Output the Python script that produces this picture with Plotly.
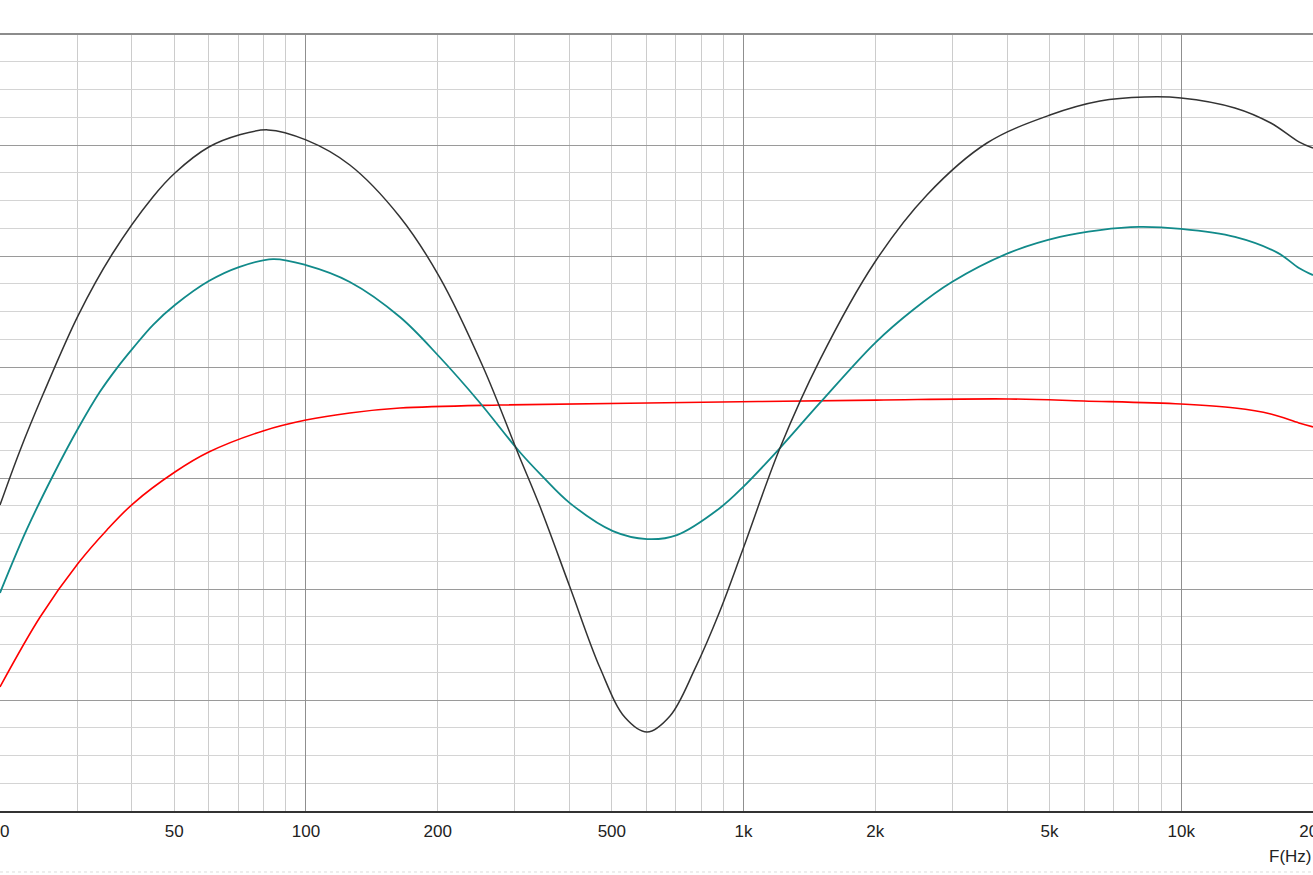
import math
import plotly.graph_objects as go

# Frequencies (Hz) and levels (dB)
freq_black = [20, 22.2, 25.1, 30.2, 36.1, 44.7, 50.2, 60.0, 70.3, 81.9, 100, 126, 164, 202, 254, 305,
              343, 401, 470, 536, 602, 679, 774, 883, 997, 1211, 1494, 1996, 2624, 3598, 5012,
              6522, 8260, 9986, 13260, 16020, 18572, 20000]
lvl_black = [73.78, 76.22, 78.78, 82.34, 85.09, 87.66, 88.74, 89.91, 90.45, 90.68, 90.23, 89.10, 86.76,
             84.05, 80.00, 76.13, 73.69, 70.09, 66.44, 64.21, 63.56, 64.28, 66.40, 69.01, 71.80,
             76.35, 80.32, 84.73, 87.75, 90.09, 91.35, 91.98, 92.16, 92.12, 91.67, 90.99, 90.14, 89.86]

freq_teal = [20, 23.0, 26.4, 30.2, 33.8, 37.0, 40.3, 44.7, 50.2, 60.0, 70.3, 84.1, 100, 126, 164, 202,
             250, 308, 348, 401, 503, 602, 704, 883, 997, 1211, 1494, 1996, 2437, 2992, 4040, 5282,
             6522, 8005, 9986, 13260, 16620, 18572, 20000]
lvl_teal = [69.82, 72.66, 75.09, 77.25, 78.87, 79.95, 80.86, 81.89, 82.79, 83.87, 84.50, 84.86, 84.59,
            83.83, 82.25, 80.45, 78.38, 76.17, 75.05, 73.87, 72.61, 72.25, 72.43, 73.65, 74.59, 76.35,
            78.38, 81.08, 82.57, 83.83, 85.14, 85.86, 86.17, 86.31, 86.22, 85.86, 85.14, 84.46, 84.14]

freq_red = [20, 24.7, 30.2, 35.1, 40.3, 50.2, 60.0, 79.8, 100, 126, 164, 278, 602, 2006, 4040, 5994,
            9986, 13260, 16020, 18572, 20000]
lvl_red = [65.59, 68.74, 71.17, 72.66, 73.85, 75.27, 76.17, 77.12, 77.61, 77.93, 78.15, 78.29, 78.38,
           78.51, 78.56, 78.47, 78.33, 78.15, 77.88, 77.48, 77.30]

tick_vals = [20, 50, 100, 200, 500, 1000, 2000, 5000, 10000, 20000]
tick_text = ["20", "50", "100", "200", "500", "1k", "2k", "5k", "10k", "20k"]
decades = [100, 1000, 10000]
minor_vals = [m * d for d in (10, 100, 1000) for m in range(2, 10)] + [20000]

Y_MIN, Y_MAX = 60, 95
xr = [math.log10(20), math.log10(20000)]

fig = go.Figure()
# invisible trace to activate the decade-grid overlay axis
fig.add_trace(go.Scatter(x=freq_red, y=lvl_red, xaxis="x2", mode="lines",
                         line=dict(width=0), opacity=0, hoverinfo="skip", showlegend=False))
fig.add_trace(go.Scatter(x=freq_red, y=lvl_red, mode="lines",
                         line=dict(color="#ff0000", width=1.6, shape="spline", smoothing=1.0),
                         name="red", showlegend=False))
fig.add_trace(go.Scatter(x=freq_teal, y=lvl_teal, mode="lines",
                         line=dict(color="#118a8a", width=1.8, shape="spline", smoothing=1.0),
                         name="teal", showlegend=False))
fig.add_trace(go.Scatter(x=freq_black, y=lvl_black, mode="lines",
                         line=dict(color="#333333", width=1.5, shape="spline", smoothing=1.0),
                         name="black", showlegend=False))

fig.update_layout(
    width=1313, height=875,
    margin=dict(l=0, r=0, t=34, b=64),
    paper_bgcolor="white", plot_bgcolor="white",
    font=dict(family="Liberation Sans, Arial, sans-serif", size=17, color="#222222"),
    xaxis=dict(type="log", range=xr, tickvals=tick_vals, ticktext=tick_text,
               showgrid=False, zeroline=False, showline=True, linecolor="#333333", linewidth=2,
               ticks="outside", ticklen=4, tickcolor="rgba(0,0,0,0)",
               automargin=False, ticklabeloverflow="allow",
               minor=dict(tickvals=minor_vals, showgrid=True, gridcolor="#cccccc", gridwidth=1, ticks="")),
    xaxis2=dict(type="log", range=xr, overlaying="x", tickvals=decades, showticklabels=False,
                showgrid=True, gridcolor="#8f8f8f", gridwidth=1, ticks="", zeroline=False, showline=False),
    yaxis=dict(range=[Y_MIN, Y_MAX], dtick=5, showticklabels=False, ticks="",
               showgrid=True, gridcolor="#9a9a9a", gridwidth=1, zeroline=False,
               showline=True, linecolor="#333333", linewidth=2, automargin=False,
               minor=dict(dtick=1.25, showgrid=True, gridcolor="#d4d4d4", gridwidth=1, ticks="")),
    shapes=[
        dict(type="line", xref="paper", yref="paper", x0=0, x1=1, y0=1, y1=1,
             line=dict(color="#8c8c8c", width=2)),
        dict(type="line", xref="paper", yref="paper", x0=0, x1=1, y0=-0.0785, y1=-0.0785,
             line=dict(color="#dddddd", width=1, dash="dot")),
    ],
    annotations=[
        dict(text="F(Hz)", xref="paper", yref="paper", x=1, y=-0.058, xanchor="right", yanchor="middle",
             showarrow=False, font=dict(size=17, color="#222222")),
    ],
)

fig.write_html("out.html", config={"displayModeBar": False},
               post_script="document.body.style.margin='0';document.body.style.overflow='hidden';")
